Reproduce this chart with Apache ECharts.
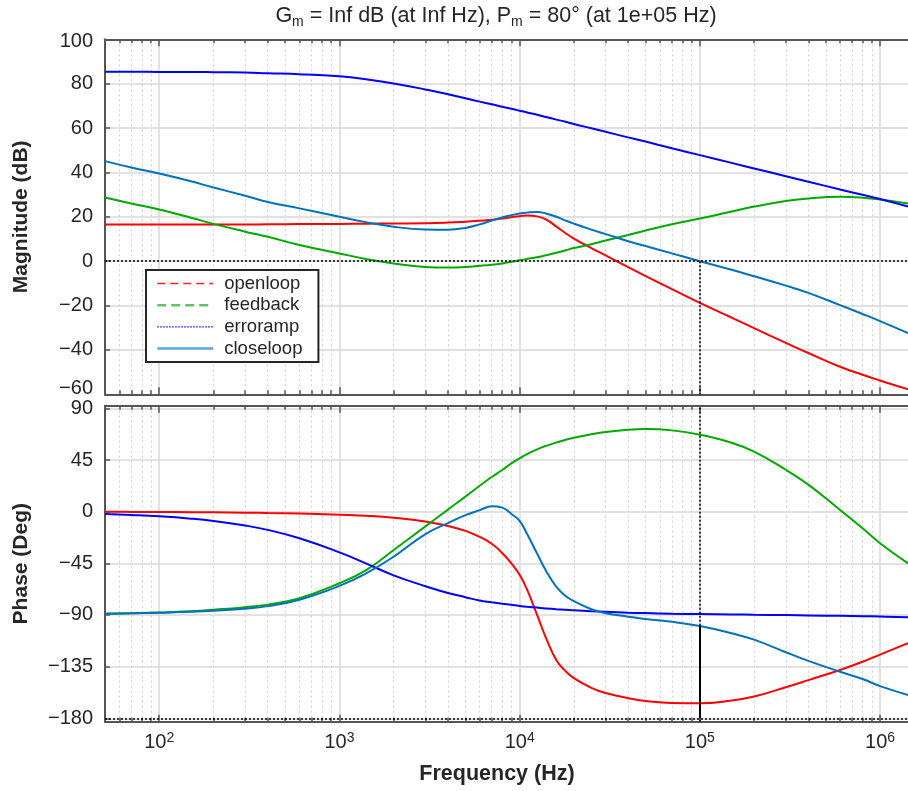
<!DOCTYPE html>
<html><head><meta charset="utf-8">
<script src="https://cdn.jsdelivr.net/npm/echarts@6/dist/echarts.min.js"></script>
<style>html,body{margin:0;padding:0;background:#fff}#c{width:908px;height:791px}</style>
</head><body><div id="c"></div>
<script>
// ---- data ----
const freqHz = [50,70,100,150,200,300,400,600,
  1000,1400,2000,3000,4000,5000,6000,7000,8000,9000,
  10000,11000,12500,14000,16000,18000,20000,25000,30000,40000,50000,70000,
  100000,150000,200000,300000,400000,600000,800000,1000000,1430000];

const openloopMag = [16.5,16.5,16.5,16.5,16.5,16.5,16.6,16.7,
  16.8,16.9,17.0,17.1,17.4,17.8,18.2,18.7,19.2,19.8,
  20.3,20.6,20.2,18.8,15.6,12.6,10.2,5.9,2.6,-2.7,-6.7,-12.6,
  -18.8,-25.4,-30.2,-36.8,-41.4,-47.6,-51.2,-53.8,-57.8];
const feedbackMag = [28.7,26.0,23.3,19.6,16.8,13.3,11.0,7.3,
  3.5,1.0,-1.0,-2.6,-2.9,-2.6,-2.1,-1.6,-1.0,-0.3,
  0.4,1.0,1.8,2.7,3.8,4.9,5.9,7.6,9.3,11.8,13.8,16.6,
  19.2,22.4,24.6,27.1,28.3,29.0,28.6,27.8,26.0];
const erroampMag = [85.4,85.4,85.3,85.3,85.2,85.0,84.7,84.3,
  83.3,82.0,80.1,77.4,75.2,73.4,71.9,70.7,69.6,68.7,
  67.8,67.0,66.0,65.0,63.8,62.8,61.8,59.9,58.3,55.8,53.9,50.9,
  47.8,44.3,41.8,38.3,35.8,32.3,29.9,28.0,24.6];
const closeloopMag = [45.1,42.2,39.5,36.0,33.2,29.5,26.7,23.8,
  20.0,17.6,15.5,14.3,14.2,15.0,16.6,18.3,19.7,20.7,
  21.5,21.9,22.2,21.5,20.0,18.3,16.9,14.2,12.2,9.0,6.8,3.5,
  0.0,-3.9,-6.8,-11.0,-14.3,-19.8,-23.8,-27.0,-32.4];

const openloopPhase = [0,-0.2,-0.3,-0.5,-0.6,-0.9,-1.2,-1.7,
  -2.6,-3.6,-5.3,-8.5,-12.5,-16.8,-22.0,-28.0,-36.0,-45.0,
  -55.0,-68.0,-90.0,-110.0,-129.5,-139.0,-145.0,-153.5,-158.0,-162.5,-165.0,-166.8,
  -167.0,-164.5,-161.1,-153.0,-146.8,-137.9,-130.8,-124.5,-114.6];
const feedbackPhase = [-89.0,-88.5,-87.9,-86.8,-85.5,-83.2,-81.0,-75.4,
  -62.4,-51.2,-33.4,-12.8,1.8,13.1,22.6,30.2,36.3,42.0,
  46.5,50.2,54.3,57.3,60.3,62.6,64.4,67.4,69.4,71.4,72.0,70.8,
  67.0,60.0,52.3,36.5,23.5,1.5,-14.5,-27.5,-45.0];
const erroampPhase = [-2.0,-2.9,-4.1,-6.1,-8.1,-12.1,-15.9,-23.2,
  -35.5,-45.0,-55.5,-65.0,-70.9,-74.5,-77.5,-79.0,-80.2,-81.2,
  -82.1,-82.8,-83.6,-84.3,-85.0,-85.5,-86.0,-86.8,-87.3,-88.0,-88.4,-88.9,
  -89.2,-89.5,-89.8,-90.1,-90.4,-90.8,-91.1,-91.4,-92.1];
const closeloopPhase = [-89.0,-88.6,-88.0,-87.2,-86.3,-84.5,-82.3,-76.7,
  -64.7,-54.0,-39.2,-19.5,-10.0,-3.0,1.3,4.6,3.5,-2.0,
  -8.0,-19.5,-36.5,-51.5,-65.5,-73.5,-78.0,-85.0,-88.5,-91.5,-93.6,-96.0,
  -99.7,-106.0,-111.5,-122.5,-130.0,-139.5,-145.8,-152.0,-159.7];

const seriesNames = ['openloop','feedback','erroramp','closeloop'];
const magTicks = [-60,-40,-20,0,20,40,60,80,100];
const phaseTicks = [-180,-135,-90,-45,0,45,90];
const freqDecades = [2,3,4,5,6];          // tick labels 10^2 .. 10^6
const crossoverHz = 100000;
const titleParts = ['G','m',' = Inf dB (at Inf Hz), P','m',' = 80\u00b0 (at 1e+05 Hz)'];

// ---- styling ----
const FONT = '"Liberation Sans", Arial, Helvetica, sans-serif';
const TXT = '#262626';
const AX = '#555555';
const GRIDC = '#d9d9d9';
const colors = {openloop:'#ff0000', feedback:'#00aa00', erroramp:'#0000ff', closeloop:'#0072bd'};

const xMin = Math.log10(50), xMax = 6.155;
const minorExp = [];
for (let e = 1; e <= 6; e++) for (let k = 2; k <= 9; k++) {
  const v = Math.log10(k * Math.pow(10, e));
  if (v > xMin && v < xMax) minorExp.push(v);
}
const fmtMinus = v => String(v).replace('-', '\u2212');
const magRange = [magTicks[0], magTicks[magTicks.length-1]];
const phaseRange = [-183, 92.3];

function makeX(grid, pos, isMajor, labels) {
  return {
    type: 'value', gridIndex: grid, position: pos, min: xMin, max: xMax,
    axisLine: {show: isMajor, onZero: false, lineStyle: {color: AX, width: 2}},
    axisTick: {show: true, inside: true, length: isMajor ? 7 : 4,
      customValues: isMajor ? freqDecades : minorExp, lineStyle: {color: AX, width: 1.5}},
    axisLabel: {show: labels, customValues: freqDecades, margin: 9,
      fontSize: 20, fontFamily: FONT, color: TXT,
      formatter: v => '10{sup|' + v + '}',
      rich: {sup: {fontSize: 14, fontFamily: FONT, color: TXT, padding: [0,0,10,0]}}},
    splitLine: {show: pos === 'bottom', lineStyle: isMajor ? {color: GRIDC, width: 1.5} : {color: '#d2d2d2', width: 1, type: [2, 3]}}
  };
}
function magLabel(v) {
  const s = fmtMinus(v);
  if (v === magRange[0]) return '{lo|' + s + '}';
  if (v === magRange[1]) return '{hi|' + s + '}';
  return s;
}

const xi = freqHz.map(f => Math.log10(f));
function line(name, arr, xIdx, yIdx) {
  return {
    type: 'line', name, xAxisIndex: xIdx, yAxisIndex: yIdx,
    data: arr.map((v, i) => [xi[i], v]),
    symbol: 'none', showSymbol: false, smooth: 0.45,
    lineStyle: {color: colors[name], width: 2}, itemStyle: {color: colors[name]},
    silent: true, animation: false
  };
}
const crossX = Math.log10(crossoverHz);
const crossIdx = freqHz.indexOf(crossoverHz);
const dotted = {color: '#000', width: 1.5, type: [2, 2]};

const magArrays = {openloop: openloopMag, feedback: feedbackMag, erroramp: erroampMag, closeloop: closeloopMag};
const phaseArrays = {openloop: openloopPhase, feedback: feedbackPhase, erroramp: erroampPhase, closeloop: closeloopPhase};

const series = [];
seriesNames.forEach(n => series.push(line(n, magArrays[n], 0, 0)));
seriesNames.forEach(n => series.push(line(n, phaseArrays[n], 4, 1)));
series[3].markLine = {silent: true, symbol: 'none', label: {show: false}, animation: false,
  lineStyle: dotted,
  data: [{yAxis: 0}, [{coord: [crossX, 0]}, {coord: [crossX, magRange[0]]}]]};
series[7].markLine = {silent: true, symbol: 'none', label: {show: false}, animation: false,
  lineStyle: dotted,
  data: [{yAxis: -180},
    [{coord: [crossX, phaseRange[0]]}, {coord: [crossX, phaseRange[1]]}],
    [{coord: [crossX, -180], lineStyle: {type: 'solid', width: 2, color: '#000'}},
     {coord: [crossX, closeloopPhase[crossIdx]]}]]};

const legendStyles = {
  openloop: {color: '#ff2020', width: 1.5, type: [8, 5]},
  feedback: {color: '#62c462', width: 2.5, type: [9, 5]},
  erroramp: {color: '#0000ff', width: 1.2, type: [1.5, 1.5]},
  closeloop: {color: '#5aa5dc', width: 2.5, type: 'solid'}
};

const option = {
  backgroundColor: '#ffffff',
  animation: false,
  title: [{
    text: '{n|' + titleParts[0] + '}{s|' + titleParts[1] + '}{n|' + titleParts[2] + '}{s|' + titleParts[3] + '}{n|' + titleParts[4] + '}',
    left: 496, top: 3, padding: 0, textAlign: 'center',
    textStyle: {fontWeight: 'normal', rich: {
      n: {fontSize: 21.5, fontWeight: 'normal', fontFamily: FONT, color: TXT},
      s: {fontSize: 14, fontWeight: 'normal', fontFamily: FONT, color: TXT, padding: [12,0,0,0]}}}
  }, {
    text: 'Frequency (Hz)', left: 497, top: 763, padding: 0, textAlign: 'center',
    textStyle: {fontSize: 21.5, fontWeight: 'bold', fontFamily: FONT, color: TXT}
  }],
  legend: {
    orient: 'vertical', left: 146, top: 270, padding: [4, 16, 4, 10],
    borderColor: '#262626', borderWidth: 2, backgroundColor: '#fff',
    itemWidth: 56, itemHeight: 14, itemGap: 2.7, selectedMode: false, z: 10,
    textStyle: {fontSize: 18.5, lineHeight: 18, fontFamily: FONT, color: TXT, padding: [0,0,0,6]},
    data: seriesNames.map(n => ({name: n, lineStyle: legendStyles[n], itemStyle: {opacity: 0}}))
  },
  grid: [
    {left: 105, top: 39.3, height: 355, right: 0, outerBoundsMode: 'none'},
    {left: 105, top: 405.7, height: 316, right: 0, outerBoundsMode: 'none'}
  ],
  xAxis: [
    makeX(0, 'bottom', true, false), makeX(0, 'bottom', false, false),
    makeX(0, 'top', true, false), makeX(0, 'top', false, false),
    makeX(1, 'bottom', true, true), makeX(1, 'bottom', false, false),
    makeX(1, 'top', true, false), makeX(1, 'top', false, false)
  ],
  yAxis: [{
    type: 'value', gridIndex: 0, min: magRange[0], max: magRange[1], interval: 20,
    axisLine: {show: true, onZero: false, lineStyle: {color: AX, width: 2}},
    axisTick: {show: true, inside: true, length: 5, lineStyle: {color: AX, width: 1.5}},
    axisLabel: {fontSize: 20, fontFamily: FONT, color: TXT, margin: 12, formatter: magLabel,
      rich: {lo: {fontSize: 20, fontFamily: FONT, color: TXT, padding: [0,0,12,0]},
             hi: {fontSize: 20, fontFamily: FONT, color: TXT, padding: [5,0,0,0]}}},
    splitLine: {show: true, lineStyle: {color: GRIDC, width: 1.5}},
    name: 'Magnitude (dB)', nameLocation: 'middle', nameGap: 73,
    nameTextStyle: {fontSize: 21, fontWeight: 'bold', fontFamily: FONT, color: TXT}
  }, {
    type: 'value', gridIndex: 1, min: phaseRange[0], max: phaseRange[1],
    axisLine: {show: true, onZero: false, lineStyle: {color: AX, width: 2}},
    axisTick: {show: true, inside: true, length: 5, customValues: phaseTicks, lineStyle: {color: AX, width: 1.5}},
    axisLabel: {fontSize: 20, fontFamily: FONT, color: TXT, margin: 12, customValues: phaseTicks, formatter: fmtMinus},
    splitLine: {show: true, lineStyle: {color: GRIDC, width: 1.5}},
    name: 'Phase (Deg)', nameLocation: 'middle', nameGap: 73,
    nameTextStyle: {fontSize: 21, fontWeight: 'bold', fontFamily: FONT, color: TXT}
  }],
  series: series
};
const chart = echarts.init(document.getElementById('c'), null, {renderer: 'canvas'});
chart.setOption(option);
</script></body></html>
